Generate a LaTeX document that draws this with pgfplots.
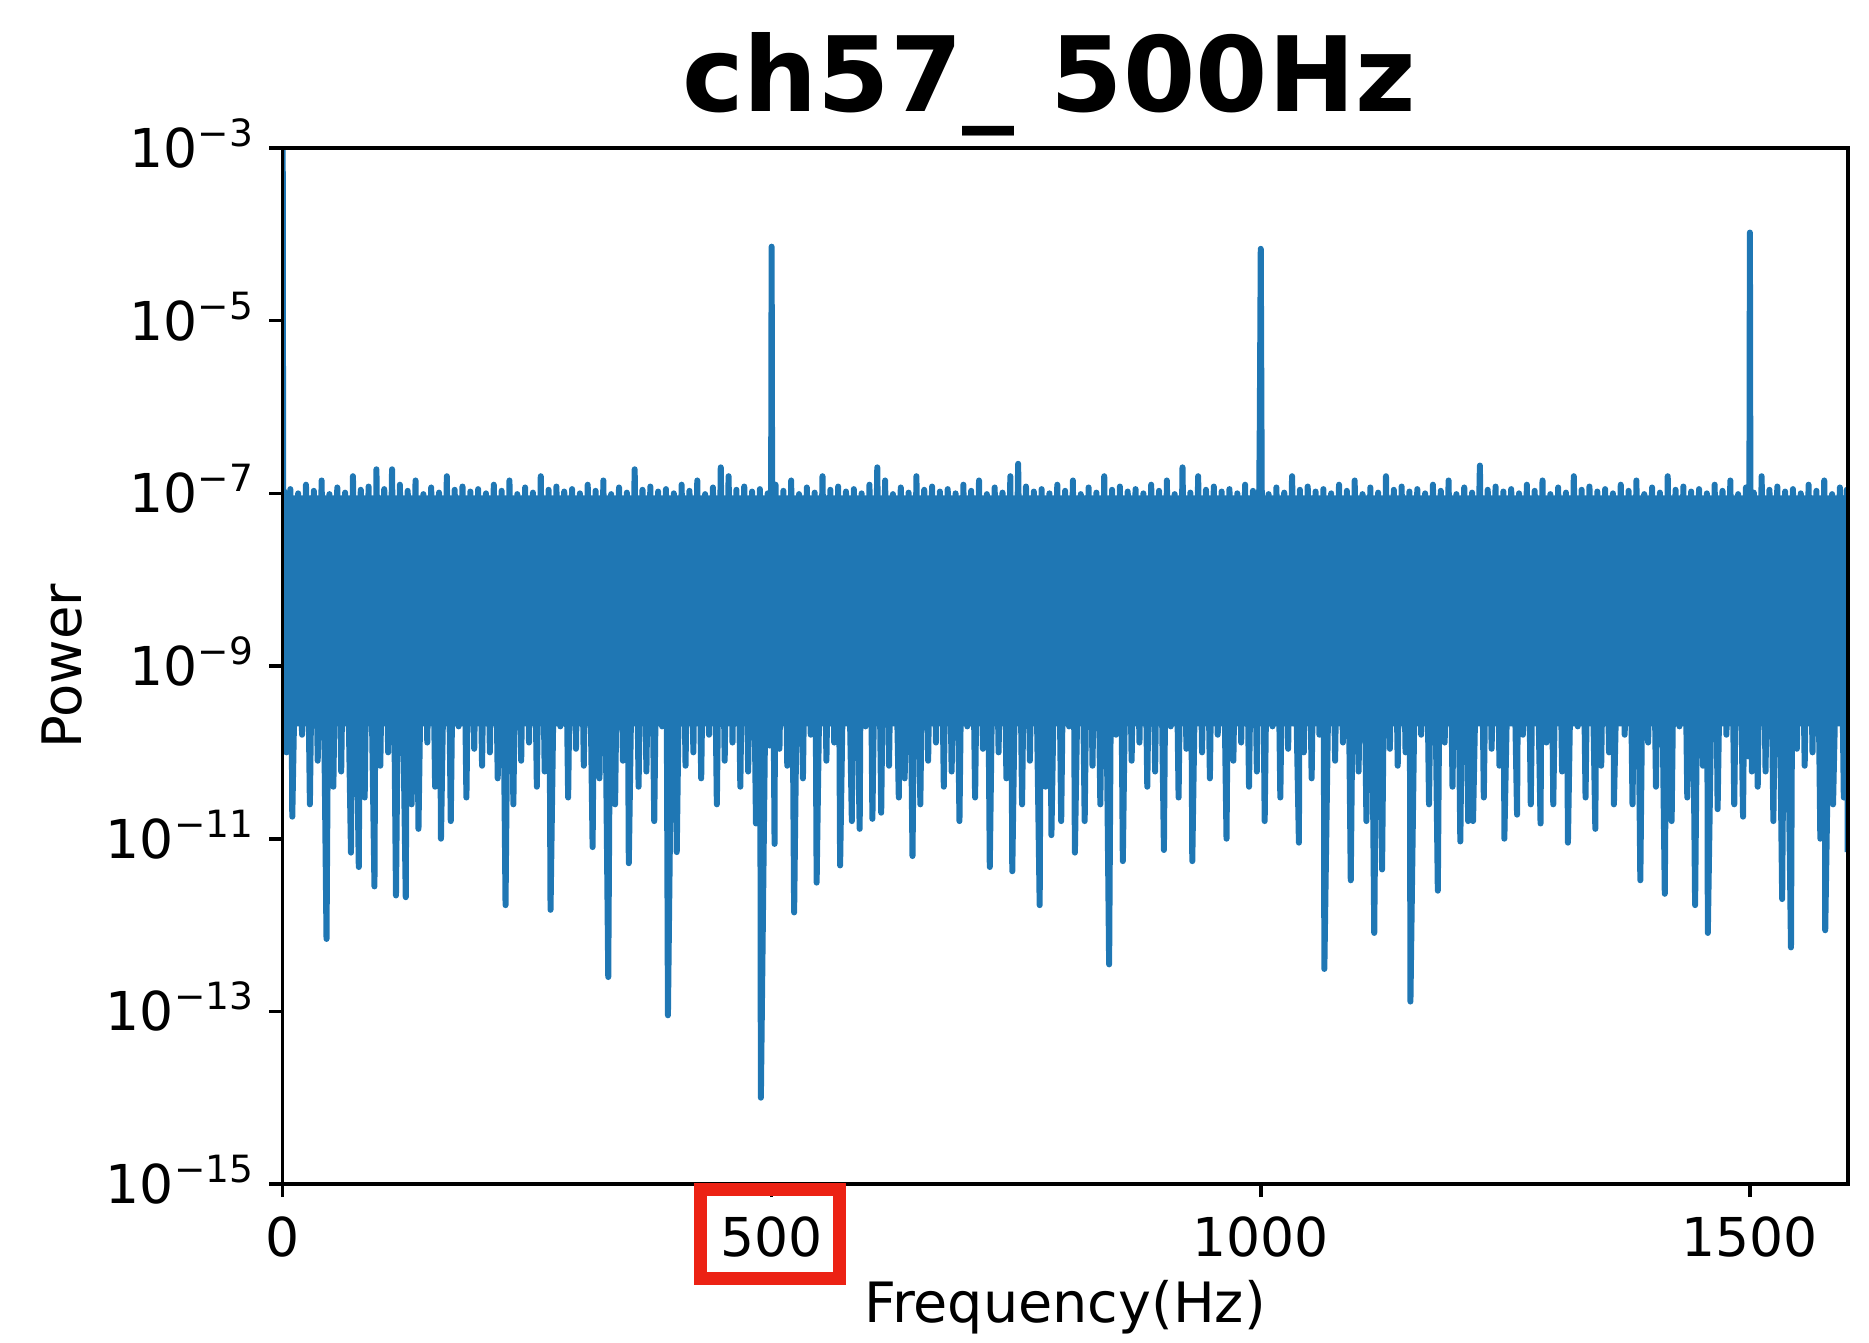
\documentclass[border=0pt]{standalone}
\usepackage{fontspec}
\setmainfont{DejaVu Sans}
\usepackage{pgfplots}
\pgfplotsset{compat=1.18}
\definecolor{mplblue}{RGB}{31,119,180}
\definecolor{boxred}{RGB}{236,34,20}
\begin{document}
\begin{tikzpicture}
\begin{axis}[
  at={(0pt,0pt)}, anchor=south west,
  scale only axis, width=391.3pt, height=259pt,
  xmin=0, xmax=1600, ymode=log, ymin=1e-15, ymax=1e-3,
  xtick={0,500,1000,1500}, xticklabels={0,500,1000,1500},
  ytick={1e-15,1e-13,1e-11,1e-9,1e-7,1e-5,1e-3},
  yticklabels={10\smash{\textsuperscript{−15}},10\smash{\textsuperscript{−13}},10\smash{\textsuperscript{−11}},10\smash{\textsuperscript{−9}},10\smash{\textsuperscript{−7}},10\smash{\textsuperscript{−5}},10\smash{\textsuperscript{−3}}},
  yminorticks=false, xminorticks=false,
  tick pos=left, tick align=outside, major tick length=3.25pt,
  axis line style={line width=0.9pt},
  every tick/.style={black, line width=0.9pt},
  tick label style={font=\fontsize{13.4}{16}\selectfont},
  yticklabel style={inner sep=0pt, xshift=-3.35pt},
  xticklabel style={inner sep=0pt, yshift=-4.75pt},
  axis on top,
]
% core of the noise band
\addplot[draw=none, fill=mplblue] coordinates {(0,9.5e-8) (1600,9.5e-8) (1600,2e-10) (0,2e-10) (0,9.5e-8)};
% spectrum
\addplot[mplblue, line width=1.5pt, line join=round] table {
x y
0 1e-1
1 1.5e-10
2 1.05e-7
4 1e-10
8 1.12e-7
10 1.8e-11
16 1.0e-7
20 1.6e-10
24 1.26e-7
28 2.5e-11
32 1.07e-7
36 8e-11
40 1.41e-7
45 6.9e-13
48 9.8e-8
52 4e-11
56 1.17e-7
60 6e-11
64 1.02e-7
70 6.9e-12
72 1.58e-7
78 4.7e-12
80 1.1e-7
84 3e-11
88 1.2e-7
94 2.8e-12
96 1.9e-7
100 7e-11
104 1.12e-7
108 1e-10
112 1.9e-7
116 2.2e-12
120 1.26e-7
126 2.1e-12
128 1.07e-7
132 2.5e-11
136 1.41e-7
139 1.3e-11
144 9.8e-8
148 1.3e-10
152 1.17e-7
156 4e-11
160 1.02e-7
162 1e-11
168 1.58e-7
172 1.6e-11
176 1.1e-7
180 2e-10
184 1.2e-7
188 3e-11
192 1.05e-7
196 1.1e-10
200 1.12e-7
204 7e-11
208 1.0e-7
212 1e-10
216 1.26e-7
220 5e-11
224 1.07e-7
228 1.7e-12
232 1.41e-7
236 2.5e-11
240 9.8e-8
244 8e-11
248 1.17e-7
252 1.3e-10
256 1.02e-7
260 4e-11
264 1.58e-7
268 6e-11
272 1.1e-7
274 1.5e-12
280 1.2e-7
284 2e-10
288 1.05e-7
292 3e-11
296 1.12e-7
300 1.1e-10
304 1.0e-7
308 7e-11
312 1.26e-7
317 8e-12
320 1.07e-7
324 5e-11
328 1.41e-7
333 2.5e-13
336 9.8e-8
340 2.5e-11
344 1.17e-7
348 8e-11
352 1.02e-7
354 5.2e-12
360 1.9e-7
364 4e-11
368 1.1e-7
372 6e-11
376 1.2e-7
380 1.6e-11
384 1.05e-7
388 2e-10
392 1.12e-7
394 9e-14
400 1.0e-7
403 7e-12
408 1.26e-7
412 7e-11
416 1.07e-7
420 1e-10
424 1.41e-7
428 5e-11
432 9.8e-8
436 1.6e-10
440 1.17e-7
444 2.5e-11
448 2.0e-7
452 8e-11
456 1.58e-7
460 1.3e-10
464 1.1e-7
468 4e-11
472 1.2e-7
476 6e-11
480 1.05e-7
484 1.5e-11
488 1.12e-7
489 1.0e-14
496 1.0e-7
498 1.2e-10
499.5 1.1e-7
500 7.2e-5
500.5 1.2e-7
503 8.7e-12
504 1.26e-7
508 1.1e-10
512 1.07e-7
516 7e-11
520 1.41e-7
523 1.4e-12
528 9.8e-8
532 5e-11
536 1.17e-7
540 1.6e-10
544 1.02e-7
546 3.1e-12
552 1.58e-7
556 8e-11
560 1.1e-7
564 1.3e-10
568 1.2e-7
570 4.9e-12
576 1.05e-7
582 1.6e-11
584 1.12e-7
590 1.3e-11
592 1.0e-7
596 2e-10
600 1.26e-7
603 1.7e-11
608 2.0e-7
612 2e-11
616 1.41e-7
620 7e-11
624 9.8e-8
630 3e-11
632 1.17e-7
636 5e-11
640 1.02e-7
644 6.3e-12
648 1.58e-7
652 2.5e-11
656 1.1e-7
660 8e-11
664 1.2e-7
668 1.3e-10
672 1.05e-7
676 4e-11
680 1.12e-7
684 6e-11
688 1.0e-7
692 1.6e-11
696 1.26e-7
700 2e-10
704 1.07e-7
708 3e-11
712 1.41e-7
716 1.1e-10
720 9.8e-8
723 4.7e-12
728 1.17e-7
732 1e-10
736 1.02e-7
740 5e-11
744 1.58e-7
746 4.2e-12
752 2.2e-7
756 2.5e-11
760 1.2e-7
764 8e-11
768 1.05e-7
774 1.7e-12
776 1.12e-7
780 4e-11
784 1.0e-7
786 1.1e-11
792 1.26e-7
796 1.6e-11
800 1.07e-7
804 2e-10
808 1.41e-7
810 6.9e-12
816 9.8e-8
820 1.6e-11
824 1.17e-7
828 7e-11
832 1.02e-7
836 2.5e-11
840 1.58e-7
845 3.5e-13
848 1.1e-7
852 1.6e-10
856 1.2e-7
859 5.5e-12
864 1.05e-7
868 8e-11
872 1.12e-7
876 1.3e-10
880 1.0e-7
884 4e-11
888 1.26e-7
892 6e-11
896 1.07e-7
901 7.4e-12
904 1.41e-7
908 2e-10
912 9.8e-8
916 3e-11
920 2.0e-7
924 1.1e-10
928 1.02e-7
930 5.5e-12
936 1.58e-7
940 1e-10
944 1.1e-7
948 5e-11
952 1.2e-7
956 1.6e-10
960 1.05e-7
965 1e-11
968 1.12e-7
972 8e-11
976 1.0e-7
980 1.3e-10
984 1.26e-7
988 4e-11
992 1.07e-7
996 6e-11
999 6e-7
1000 6.8e-5
1001 1.1e-7
1004 1.6e-11
1008 9.8e-8
1012 2e-10
1016 1.17e-7
1020 3e-11
1024 1.02e-7
1028 1.1e-10
1032 1.58e-7
1039 9e-12
1040 1.1e-7
1044 1e-10
1048 1.2e-7
1052 5e-11
1056 1.05e-7
1060 1.6e-10
1064 1.12e-7
1065 3.1e-13
1072 1.0e-7
1076 8e-11
1080 1.26e-7
1084 1.3e-10
1088 1.07e-7
1092 3.3e-12
1096 1.41e-7
1100 6e-11
1104 9.8e-8
1108 1.6e-11
1112 1.17e-7
1116 8.1e-13
1120 1.02e-7
1124 4.4e-12
1128 1.58e-7
1132 1.1e-10
1136 1.1e-7
1140 7e-11
1144 1.2e-7
1148 1e-10
1152 1.05e-7
1153 1.3e-13
1160 1.12e-7
1164 1.6e-10
1168 1.0e-7
1172 2.5e-11
1176 1.26e-7
1181 2.5e-12
1184 1.07e-7
1188 1.3e-10
1192 1.41e-7
1196 4e-11
1200 9.8e-8
1204 9.3e-12
1208 1.17e-7
1212 1.6e-11
1216 1.02e-7
1217 1.6e-11
1224 2.1e-7
1228 3e-11
1232 1.1e-7
1236 1.1e-10
1240 1.2e-7
1244 7e-11
1248 1.05e-7
1249 1e-11
1256 1.12e-7
1262 1.9e-11
1264 1.0e-7
1268 1.6e-10
1272 1.26e-7
1276 2.5e-11
1280 1.07e-7
1286 1.5e-11
1288 1.41e-7
1292 1.3e-10
1296 9.8e-8
1299 2.5e-11
1304 1.17e-7
1308 6e-11
1312 1.02e-7
1314 9e-12
1320 1.58e-7
1324 2e-10
1328 1.1e-7
1332 3e-11
1336 1.2e-7
1342 1.3e-11
1344 1.05e-7
1348 7e-11
1352 1.12e-7
1356 1e-10
1360 1.0e-7
1361 2.5e-11
1368 1.26e-7
1372 1.6e-10
1376 1.07e-7
1380 2.5e-11
1384 1.41e-7
1388 3.3e-12
1392 9.8e-8
1396 1.3e-10
1400 1.17e-7
1404 4e-11
1408 1.02e-7
1413 2.3e-12
1416 1.58e-7
1420 1.6e-11
1424 1.1e-7
1428 2e-10
1432 1.2e-7
1436 3e-11
1440 1.05e-7
1444 1.7e-12
1448 1.12e-7
1452 7e-11
1456 1.0e-7
1457 8.1e-13
1464 1.26e-7
1467 2.2e-11
1472 1.07e-7
1476 1.6e-10
1480 1.41e-7
1484 2.5e-11
1488 9.8e-8
1493 1.8e-11
1496 1.17e-7
1498 9e-11
1499.5 1.2e-7
1500 1.05e-4
1500.5 1.1e-7
1502 6e-11
1504 1.02e-7
1508 4e-11
1512 1.58e-7
1516 6e-11
1520 1.1e-7
1524 1.6e-11
1528 1.2e-7
1533 2e-12
1536 1.05e-7
1542 5.5e-13
1544 1.12e-7
1548 1.1e-10
1552 1.0e-7
1556 7e-11
1560 1.26e-7
1564 1e-10
1568 1.07e-7
1572 1e-11
1576 1.41e-7
1577 8.7e-13
1584 9.8e-8
1585 2.5e-11
1592 1.17e-7
1596 3e-11
1599 1.1e-7
1600 7e-12
};
\end{axis}
% annotation box around the 500 tick label
\draw[boxred, line width=3.25pt] (104.5pt,-1.4pt) rectangle (139.25pt,-23.6pt);
\node[anchor=base, font=\fontsize{26}{30}\selectfont\bfseries, inner sep=0pt] at (191.6pt,268pt) {ch57\_ 500Hz};
\node[anchor=base, font=\fontsize{13.9}{16}\selectfont, inner sep=0pt] at (195.6pt,-34.6pt) {Frequency(Hz)};
\node[rotate=90, anchor=center, font=\fontsize{13.6}{16}\selectfont, inner sep=0pt] at (-55.1pt,129.5pt) {Power};
\pgfresetboundingbox
\useasboundingbox (-70.625pt,-39.5pt) rectangle (396.625pt,296pt);
\end{tikzpicture}
\end{document}
